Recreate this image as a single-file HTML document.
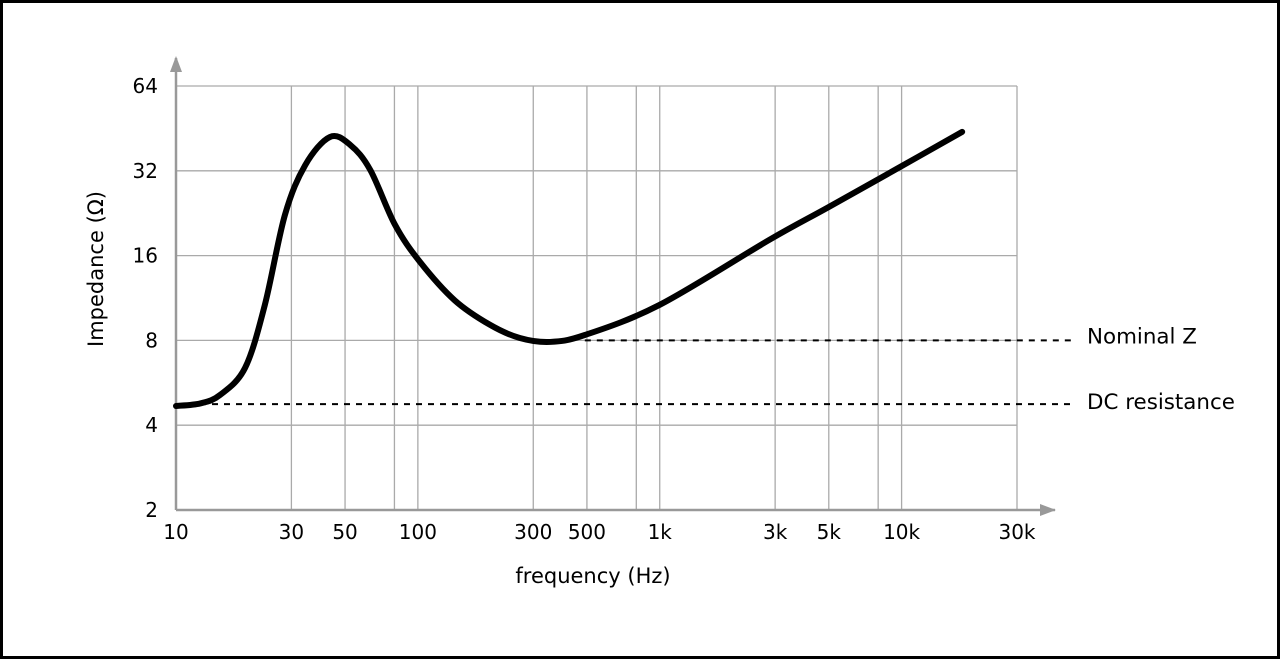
<!DOCTYPE html>
<html><head><meta charset="utf-8"><style>
html,body{margin:0;padding:0;background:#fff}
svg{display:block;font-family:"DejaVu Sans","Liberation Sans",sans-serif}
</style></head><body>
<svg id="chart" width="1280" height="659" viewBox="0 0 1280 659" xmlns="http://www.w3.org/2000/svg">
<rect x="1.5" y="1.5" width="1277" height="656" fill="#fff" stroke="#000" stroke-width="3"/>
<g id="grid"></g>
<g id="axes"></g>
<g id="series"></g>
<text x="593" y="583" font-size="21" text-anchor="middle">frequency (Hz)</text>
<text transform="translate(103,269) rotate(-90)" font-size="21" text-anchor="middle">Impedance (Ω)</text>
</svg>
<script>
const xTicks=[10,30,50,100,300,500,1000,3000,5000,10000,30000];
const xTickLabels=["10","30","50","100","300","500","1k","3k","5k","10k","30k"];
const xGrid=[30,50,80,100,300,500,800,1000,3000,5000,8000,10000,30000];
const yTicks=[2,4,8,16,32,64];
const yTickLabels=["2","4","8","16","32","64"];
const curveFreq=[10,12.6,15.2,19.3,23.3,28.2,34.2,43.3,52.6,63.6,80.4,102,142,199,264,352,490,1000,2840,5000,9850,17800];
const curveZ=[4.68,4.78,5.12,6.39,10.7,22.3,33.5,42.2,39.5,32.2,20.6,15.2,11.1,9.08,8.16,7.90,8.36,10.7,18.2,23.8,33,44];
const nominalZ=8; const nominalStart=490;
const dcResistance=4.75;
const refLabels=["Nominal Z","DC resistance"];

const NS="http://www.w3.org/2000/svg";
const X0=176,X1=1017,Y0=510,Y1=86;
const xs=f=>X0+(X1-X0)*Math.log10(f/10)/Math.log10(3000);
const ys=z=>Y0-(Y0-Y1)*Math.log2(z/2)/5;
function mk(tag,attrs,parent,text){const e=document.createElementNS(NS,tag);for(const k in attrs)e.setAttribute(k,attrs[k]);if(text!==undefined)e.textContent=text;parent.appendChild(e);return e;}
const grid=document.getElementById('grid'),axes=document.getElementById('axes'),series=document.getElementById('series');
xGrid.forEach(f=>{const l=mk('line',{x1:xs(f),x2:xs(f),y1:Y1,y2:Y0,stroke:'#aaa','stroke-width':1.3},grid);

});
yTicks.slice(1).forEach(z=>{const l=mk('line',{x1:X0,x2:X1,y1:ys(z),y2:ys(z),stroke:'#aaa','stroke-width':1.3},grid);

});
mk('path',{d:`M${X0} 510V58M${X0} 510H1055`,stroke:'#999','stroke-width':2.5,fill:'none'},axes);
mk('path',{d:'M176 56l-6 16h12z',fill:'#999'},axes);
mk('path',{d:'M1056 510l-16 -6v12z',fill:'#999'},axes);
xTicks.forEach((f,i)=>{const t=mk('text',{x:xs(f),y:539,'font-size':20,'text-anchor':'middle'},axes,xTickLabels[i]);

});
yTicks.forEach((z,i)=>{const t=mk('text',{x:158,y:ys(z)+7,'font-size':20,'text-anchor':'end'},axes,yTickLabels[i]);

});
const nz=mk('line',{x1:xs(nominalStart),x2:1072,y1:ys(nominalZ),y2:ys(nominalZ),stroke:'#000','stroke-width':2,'stroke-dasharray':'6 6'},series);


const dc=mk('line',{x1:X0,x2:1072,y1:ys(dcResistance),y2:ys(dcResistance),stroke:'#000','stroke-width':2,'stroke-dasharray':'6 6'},series);


const t1=mk('text',{x:1087,y:ys(nominalZ)+3,'font-size':21.4},series,refLabels[0]);


const t2=mk('text',{x:1087,y:ys(dcResistance)+5,'font-size':21.4},series,refLabels[1]);


const P=curveFreq.map((f,i)=>[xs(f),ys(curveZ[i])]);
let d=`M${P[0][0]} ${P[0][1]}`;
for(let i=0;i<P.length-1;i++){const p0=P[Math.max(0,i-1)],p1=P[i],p2=P[i+1],p3=P[Math.min(P.length-1,i+2)];
d+=`C${p1[0]+(p2[0]-p0[0])/6} ${p1[1]+(p2[1]-p0[1])/6} ${p2[0]-(p3[0]-p1[0])/6} ${p2[1]-(p3[1]-p1[1])/6} ${p2[0]} ${p2[1]}`;}
const c=mk('path',{d:d,stroke:'#000','stroke-width':6,fill:'none','stroke-linecap':'round','stroke-linejoin':'round'},series);


</script>
</body></html>
